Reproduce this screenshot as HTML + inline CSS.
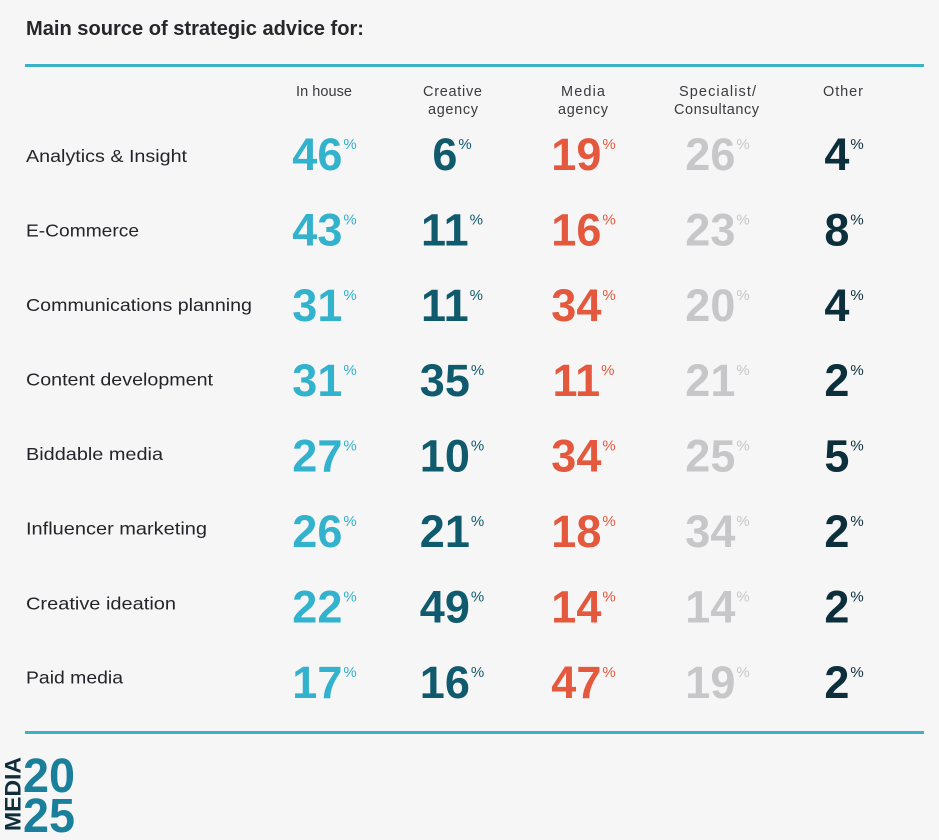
<!DOCTYPE html>
<html>
<head>
<meta charset="utf-8">
<style>
  html,body{margin:0;padding:0;background:#f6f6f6;}
  svg{display:block;}
  .t{font-family:"Liberation Sans",sans-serif;}
  .lbl{font-size:17.5px;fill:#24242a;}
  .hd{font-size:14.5px;fill:#3a3a40;}
  .n{font-size:45px;font-weight:bold;}
  .p{font-size:15px;}
  .c1{fill:#33b2cd;}
  .c2{fill:#0f5a6d;}
  .c3{fill:#e4583d;}
  .c4{fill:#c7c7c9;}
  .c5{fill:#0c2f3b;}
</style>
</head>
<body>
<svg width="939" height="840" viewBox="0 0 939 840" xmlns="http://www.w3.org/2000/svg">
  <rect width="939" height="840" fill="#f6f6f6"/>
  <text class="t" x="26" y="35" font-size="20" font-weight="bold" fill="#26262b" textLength="338" lengthAdjust="spacingAndGlyphs">Main source of strategic advice for:</text>
  <rect x="25" y="64" width="899" height="3" fill="#3ab3c6"/>
  <rect x="25" y="731" width="899" height="3" fill="#3ab3c6"/>

  <!-- headers -->
  <g class="t hd" text-anchor="middle">
    <text x="324" y="96" textLength="56">In house</text>
    <text x="452.5" y="96" textLength="59">Creative</text>
    <text x="453" y="114" textLength="50">agency</text>
    <text x="583" y="96" textLength="44">Media</text>
    <text x="583" y="114" textLength="50">agency</text>
    <text x="717.5" y="96" textLength="77">Specialist/</text>
    <text x="716.5" y="114" textLength="85">Consultancy</text>
    <text x="843" y="96" textLength="40">Other</text>
  </g>

  <!-- row labels -->
  <g class="t lbl">
    <text x="26" y="162" textLength="161" lengthAdjust="spacingAndGlyphs">Analytics &amp; Insight</text>
    <text x="26" y="236.5" textLength="113" lengthAdjust="spacingAndGlyphs">E-Commerce</text>
    <text x="26" y="311" textLength="226" lengthAdjust="spacingAndGlyphs">Communications planning</text>
    <text x="26" y="385.5" textLength="187" lengthAdjust="spacingAndGlyphs">Content development</text>
    <text x="26" y="460" textLength="137" lengthAdjust="spacingAndGlyphs">Biddable media</text>
    <text x="26" y="534.5" textLength="181" lengthAdjust="spacingAndGlyphs">Influencer marketing</text>
    <text x="26" y="609.5" textLength="150" lengthAdjust="spacingAndGlyphs">Creative ideation</text>
    <text x="26" y="683.5" textLength="97" lengthAdjust="spacingAndGlyphs">Paid media</text>
  </g>

  <!-- numbers -->
  <g class="t" text-anchor="middle">
    <!-- row 1 y=170 -->
    <text class="c1" x="324.5" y="170"><tspan class="n">46</tspan><tspan class="p" dx="1" dy="-21">%</tspan></text>
    <text class="c2" x="452" y="170"><tspan class="n">6</tspan><tspan class="p" dx="1" dy="-21">%</tspan></text>
    <text class="c3" x="583.5" y="170"><tspan class="n">19</tspan><tspan class="p" dx="1" dy="-21">%</tspan></text>
    <text class="c4" x="717.5" y="170"><tspan class="n">26</tspan><tspan class="p" dx="1" dy="-21">%</tspan></text>
    <text class="c5" x="844" y="170"><tspan class="n">4</tspan><tspan class="p" dx="1" dy="-21">%</tspan></text>
    <!-- row 2 -->
    <text class="c1" x="324.5" y="245.4"><tspan class="n">43</tspan><tspan class="p" dx="1" dy="-21">%</tspan></text>
    <text class="c2" x="452" y="245.4"><tspan class="n">11</tspan><tspan class="p" dx="1" dy="-21">%</tspan></text>
    <text class="c3" x="583.5" y="245.4"><tspan class="n">16</tspan><tspan class="p" dx="1" dy="-21">%</tspan></text>
    <text class="c4" x="717.5" y="245.4"><tspan class="n">23</tspan><tspan class="p" dx="1" dy="-21">%</tspan></text>
    <text class="c5" x="844" y="245.4"><tspan class="n">8</tspan><tspan class="p" dx="1" dy="-21">%</tspan></text>
    <!-- row 3 -->
    <text class="c1" x="324.5" y="320.8"><tspan class="n">31</tspan><tspan class="p" dx="1" dy="-21">%</tspan></text>
    <text class="c2" x="452" y="320.8"><tspan class="n">11</tspan><tspan class="p" dx="1" dy="-21">%</tspan></text>
    <text class="c3" x="583.5" y="320.8"><tspan class="n">34</tspan><tspan class="p" dx="1" dy="-21">%</tspan></text>
    <text class="c4" x="717.5" y="320.8"><tspan class="n">20</tspan><tspan class="p" dx="1" dy="-21">%</tspan></text>
    <text class="c5" x="844" y="320.8"><tspan class="n">4</tspan><tspan class="p" dx="1" dy="-21">%</tspan></text>
    <!-- row 4 -->
    <text class="c1" x="324.5" y="396.2"><tspan class="n">31</tspan><tspan class="p" dx="1" dy="-21">%</tspan></text>
    <text class="c2" x="452" y="396.2"><tspan class="n">35</tspan><tspan class="p" dx="1" dy="-21">%</tspan></text>
    <text class="c3" x="583.5" y="396.2"><tspan class="n">11</tspan><tspan class="p" dx="1" dy="-21">%</tspan></text>
    <text class="c4" x="717.5" y="396.2"><tspan class="n">21</tspan><tspan class="p" dx="1" dy="-21">%</tspan></text>
    <text class="c5" x="844" y="396.2"><tspan class="n">2</tspan><tspan class="p" dx="1" dy="-21">%</tspan></text>
    <!-- row 5 -->
    <text class="c1" x="324.5" y="471.6"><tspan class="n">27</tspan><tspan class="p" dx="1" dy="-21">%</tspan></text>
    <text class="c2" x="452" y="471.6"><tspan class="n">10</tspan><tspan class="p" dx="1" dy="-21">%</tspan></text>
    <text class="c3" x="583.5" y="471.6"><tspan class="n">34</tspan><tspan class="p" dx="1" dy="-21">%</tspan></text>
    <text class="c4" x="717.5" y="471.6"><tspan class="n">25</tspan><tspan class="p" dx="1" dy="-21">%</tspan></text>
    <text class="c5" x="844" y="471.6"><tspan class="n">5</tspan><tspan class="p" dx="1" dy="-21">%</tspan></text>
    <!-- row 6 -->
    <text class="c1" x="324.5" y="547"><tspan class="n">26</tspan><tspan class="p" dx="1" dy="-21">%</tspan></text>
    <text class="c2" x="452" y="547"><tspan class="n">21</tspan><tspan class="p" dx="1" dy="-21">%</tspan></text>
    <text class="c3" x="583.5" y="547"><tspan class="n">18</tspan><tspan class="p" dx="1" dy="-21">%</tspan></text>
    <text class="c4" x="717.5" y="547"><tspan class="n">34</tspan><tspan class="p" dx="1" dy="-21">%</tspan></text>
    <text class="c5" x="844" y="547"><tspan class="n">2</tspan><tspan class="p" dx="1" dy="-21">%</tspan></text>
    <!-- row 7 -->
    <text class="c1" x="324.5" y="622.4"><tspan class="n">22</tspan><tspan class="p" dx="1" dy="-21">%</tspan></text>
    <text class="c2" x="452" y="622.4"><tspan class="n">49</tspan><tspan class="p" dx="1" dy="-21">%</tspan></text>
    <text class="c3" x="583.5" y="622.4"><tspan class="n">14</tspan><tspan class="p" dx="1" dy="-21">%</tspan></text>
    <text class="c4" x="717.5" y="622.4"><tspan class="n">14</tspan><tspan class="p" dx="1" dy="-21">%</tspan></text>
    <text class="c5" x="844" y="622.4"><tspan class="n">2</tspan><tspan class="p" dx="1" dy="-21">%</tspan></text>
    <!-- row 8 -->
    <text class="c1" x="324.5" y="697.8"><tspan class="n">17</tspan><tspan class="p" dx="1" dy="-21">%</tspan></text>
    <text class="c2" x="452" y="697.8"><tspan class="n">16</tspan><tspan class="p" dx="1" dy="-21">%</tspan></text>
    <text class="c3" x="583.5" y="697.8"><tspan class="n">47</tspan><tspan class="p" dx="1" dy="-21">%</tspan></text>
    <text class="c4" x="717.5" y="697.8"><tspan class="n">19</tspan><tspan class="p" dx="1" dy="-21">%</tspan></text>
    <text class="c5" x="844" y="697.8"><tspan class="n">2</tspan><tspan class="p" dx="1" dy="-21">%</tspan></text>
  </g>

  <!-- logo -->
  <text class="t" transform="translate(20.5,831) rotate(-90)" x="0" y="0" font-size="22" font-weight="bold" fill="#0f2e3a" textLength="74" lengthAdjust="spacingAndGlyphs">MEDIA</text>
  <text class="t" x="23" y="792" font-size="48" font-weight="bold" fill="#1a7f9a" textLength="52" lengthAdjust="spacingAndGlyphs">20</text>
  <text class="t" x="23" y="832" font-size="48" font-weight="bold" fill="#1a7f9a" textLength="52" lengthAdjust="spacingAndGlyphs">25</text>
</svg>
</body>
</html>
